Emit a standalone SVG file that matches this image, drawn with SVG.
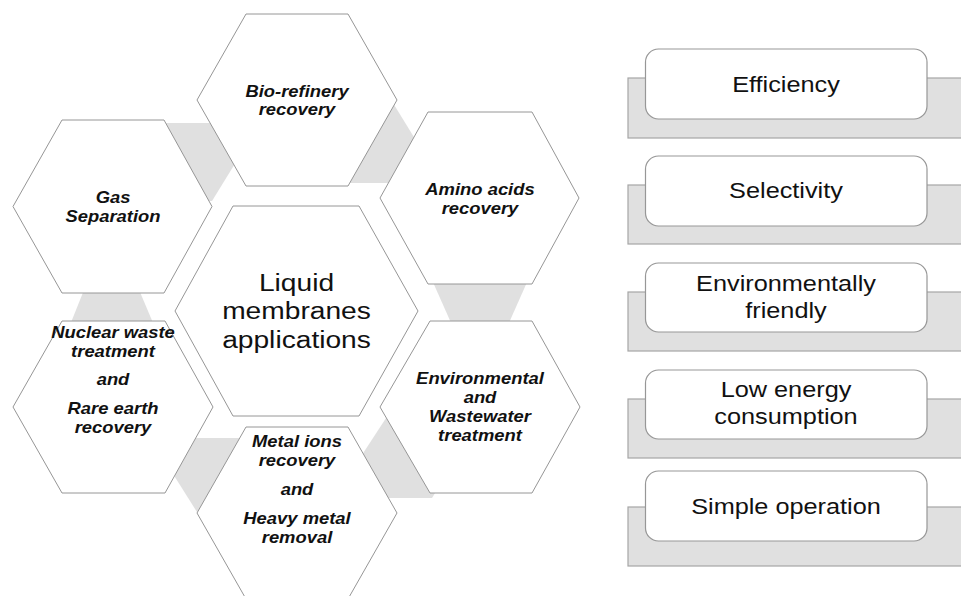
<svg xmlns="http://www.w3.org/2000/svg" width="961" height="596" viewBox="0 0 961 596">
  <style>
    .hex { fill: #ffffff; stroke: #969696; stroke-width: 1; }
    .band { fill: #e0e0e0; stroke: none; }
    .shelf { fill: #e0e0e0; stroke: #a6a6a6; stroke-width: 1.2; }
    .card { fill: #ffffff; stroke: #979797; stroke-width: 1.2; }
    .hl { font-family: "Liberation Sans", Arial, sans-serif; font-size: 16px; font-weight: bold; font-style: italic; fill: #111111; text-anchor: middle; }
    .core { font-family: "Liberation Sans", Arial, sans-serif; font-size: 24.5px; fill: #111111; text-anchor: middle; }
    .feat { font-family: "Liberation Sans", Arial, sans-serif; font-size: 22px; fill: #111111; text-anchor: middle; }
  </style>
  <rect width="961" height="596" fill="#ffffff"/>

  <!-- grey links between neighbouring hexagons (drawn underneath) -->
  <g id="connectors">
    <polygon class="band" points="86,285 137,285 156,330 68,330"/>
    <polygon class="band" points="150,123 213,123 236,162 212,201 190,201"/>
    <polygon class="band" points="385,90 420,147 400,183 330,183"/>
    <polygon class="band" points="432,280 528,280 508,325 452,325"/>
    <polygon class="band" points="390,412 358,461 380,498 432,498 440,485"/>
    <polygon class="band" points="185,438 250,438 215,505 199.5,516 168,466"/>
  </g>

  <g id="gas-separation">
    <polygon class="hex" points="62,120 164,120 212,206.5 164,293 62,293 13,206.5"/>
    <text class="hl" transform="translate(113 0) scale(1.15 1)"><tspan x="0" y="203">Gas</tspan><tspan x="0" y="222">Separation</tspan></text>
  </g>

  <g id="bio-refinery">
    <polygon class="hex" points="246,14 348,14 397,100 348,186 246,186 197,100"/>
    <text class="hl" transform="translate(297 0) scale(1.15 1)"><tspan x="0" y="97">Bio-refinery</tspan><tspan x="0" y="115.5">recovery</tspan></text>
  </g>

  <g id="amino-acids">
    <polygon class="hex" points="428,112 532,112 579,198 532,284 428,284 380,198"/>
    <text class="hl" transform="translate(480 0) scale(1.15 1)"><tspan x="0" y="195">Amino acids</tspan><tspan x="0" y="214">recovery</tspan></text>
  </g>

  <g id="environmental">
    <polygon class="hex" points="430,321 532,321 580,407 532,493 430,493 380,407"/>
    <text class="hl" transform="translate(480 0) scale(1.15 1)"><tspan x="0" y="384">Environmental</tspan><tspan x="0" y="403">and</tspan><tspan x="0" y="422">Wastewater</tspan><tspan x="0" y="441">treatment</tspan></text>
  </g>

  <g id="metal-ions">
    <polygon class="hex" points="246,427 348,427 397,513 348,599 246,599 197,513"/>
    <text class="hl" transform="translate(297 0) scale(1.15 1)"><tspan x="0" y="447">Metal ions</tspan><tspan x="0" y="466">recovery</tspan><tspan x="0" y="495">and</tspan><tspan x="0" y="524">Heavy metal</tspan><tspan x="0" y="543">removal</tspan></text>
  </g>

  <g id="nuclear-waste">
    <polygon class="hex" points="62,321 165,321 213,407 165,493 62,493 13,407"/>
    <text class="hl" transform="translate(113 0) scale(1.15 1)"><tspan x="0" y="338">Nuclear waste</tspan><tspan x="0" y="357">treatment</tspan><tspan x="0" y="385">and</tspan><tspan x="0" y="414">Rare earth</tspan><tspan x="0" y="433">recovery</tspan></text>
  </g>

  <g id="liquid-membranes">
    <polygon class="hex" points="233,206 359,206 418,311 359,416 233,416 175,311"/>
    <text class="core" transform="translate(296.5 0) scale(1.15 1)"><tspan x="0" y="291">Liquid</tspan><tspan x="0" y="319.5">membranes</tspan><tspan x="0" y="348">applications</tspan></text>
  </g>

  <!-- advantages list -->
  <g id="efficiency">
    <rect class="shelf" x="628" y="78" width="345" height="60"/>
    <rect class="card" x="645.5" y="49" width="281.5" height="70" rx="13"/>
    <text class="feat" transform="translate(786 0) scale(1.15 1)"><tspan x="0" y="92">Efficiency</tspan></text>
  </g>

  <g id="selectivity">
    <rect class="shelf" x="628" y="185" width="345" height="59"/>
    <rect class="card" x="645.5" y="156" width="281.5" height="70" rx="13"/>
    <text class="feat" transform="translate(786 0) scale(1.15 1)"><tspan x="0" y="198">Selectivity</tspan></text>
  </g>

  <g id="environmentally-friendly">
    <rect class="shelf" x="628" y="292" width="345" height="59"/>
    <rect class="card" x="645.5" y="263" width="281.5" height="69" rx="13"/>
    <text class="feat" transform="translate(786 0) scale(1.15 1)"><tspan x="0" y="291">Environmentally</tspan><tspan x="0" y="318">friendly</tspan></text>
  </g>

  <g id="low-energy">
    <rect class="shelf" x="628" y="399" width="345" height="59"/>
    <rect class="card" x="645.5" y="370" width="281.5" height="69" rx="13"/>
    <text class="feat" transform="translate(786 0) scale(1.15 1)"><tspan x="0" y="397">Low energy</tspan><tspan x="0" y="424">consumption</tspan></text>
  </g>

  <g id="simple-operation">
    <rect class="shelf" x="628" y="507" width="345" height="59"/>
    <rect class="card" x="645.5" y="471" width="281.5" height="70" rx="13"/>
    <text class="feat" transform="translate(786 0) scale(1.15 1)"><tspan x="0" y="514">Simple operation</tspan></text>
  </g>
</svg>
